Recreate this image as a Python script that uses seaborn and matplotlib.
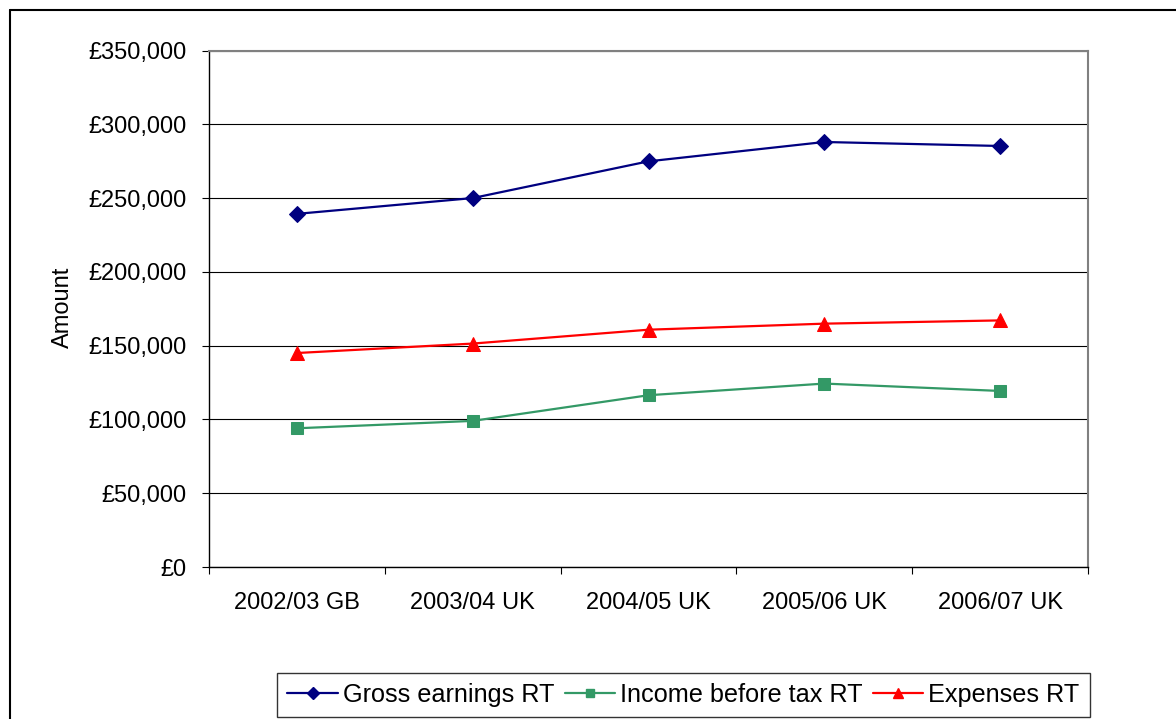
import numpy as np
import pandas as pd
import matplotlib
matplotlib.use("Agg")
import matplotlib.pyplot as plt
from matplotlib.lines import Line2D
from matplotlib.ticker import FixedLocator, FuncFormatter
import seaborn as sns

# Annual averages per tax year
periods = ["2002/03 GB", "2003/04 UK", "2004/05 UK", "2005/06 UK", "2006/07 UK"]
gross_earnings = [239300, 250000, 274900, 288000, 285300]
income_before_tax = [94000, 99000, 116400, 124300, 119300]
expenses = [145000, 151400, 160800, 164900, 167100]

series_names = ["Gross earnings RT", "Income before tax RT", "Expenses RT"]
series_values = [gross_earnings, income_before_tax, expenses]

sns.set_style("white")
plt.rcParams["font.family"] = ["Liberation Sans", "DejaVu Sans"]
plt.rcParams["text.color"] = "black"
plt.rcParams["xtick.color"] = "black"
plt.rcParams["ytick.color"] = "black"
plt.rcParams["axes.labelcolor"] = "black"
FS = 17

pos = np.arange(len(periods))
frames = []
for name, vals in zip(series_names, series_values):
    frames.append(pd.DataFrame({"pos": pos, "value": vals, "series": name}))
df = pd.concat(frames, ignore_index=True)

styles = {
    "Gross earnings RT": dict(color="#000080", marker="D", ms=8),
    "Income before tax RT": dict(color="#339966", marker="s", ms=8),
    "Expenses RT": dict(color="#FF0000", marker="^", ms=9.5),
}

fig = plt.figure(figsize=(11.76, 7.19), dpi=100)
W, H = 1176, 719
ax = fig.add_axes([209 / W, 1 - 567 / H, (1088 - 209) / W, (567 - 50.5) / H])

for name in series_names:
    st = styles[name]
    sns.lineplot(data=df[df["series"] == name], x="pos", y="value", ax=ax,
                 color=st["color"], marker=st["marker"], markersize=st["ms"],
                 markeredgecolor=st["color"], linewidth=1.6, label=name,
                 legend=False, sort=False)

ax.set_xlim(-0.5, len(periods) - 0.5)
ax.set_ylim(0, 350000)
ax.set_yticks(np.arange(0, 350001, 50000))
ax.yaxis.set_major_formatter(FuncFormatter(lambda v, p: f"£{v:,.0f}"))
ax.grid(axis="y", color="black", linewidth=0.8)
ax.set_axisbelow(True)

# category boundaries carry the tick marks, centres carry the labels
ax.xaxis.set_major_locator(FixedLocator(np.arange(-0.5, len(periods), 1.0)))
ax.xaxis.set_major_formatter(FuncFormatter(lambda v, p: ""))
ax.xaxis.set_minor_locator(FixedLocator(pos))
ax.set_xticklabels(periods, minor=True)
ax.tick_params(axis="x", which="major", length=5, width=0.8, color="black", direction="out", bottom=True)
ax.tick_params(axis="x", which="minor", length=0, pad=18, labelsize=FS, labelcolor="black")
ax.tick_params(axis="y", which="major", length=5, width=0.8, color="black", direction="out",
               left=True, pad=11, labelsize=FS, labelcolor="black")
ax.set_xlabel("")
ax.set_ylabel("")

for side in ["left", "bottom"]:
    ax.spines[side].set_color("black")
    ax.spines[side].set_linewidth(1.0)
for side in ["top", "right"]:
    ax.spines[side].set_color("#808080")
    ax.spines[side].set_linewidth(1.5)
    ax.spines[side].set_visible(True)

fig.text(63 / W, 1 - 307 / H, "Amount", rotation=90, ha="center", va="center",
         fontsize=FS, color="black")

# chart-area frame (left and top edges)
fig.add_artist(Line2D([9.5 / W, 9.5 / W], [0, 1 - 9.5 / H], color="black", linewidth=1.5))
fig.add_artist(Line2D([9.5 / W, 1], [1 - 9.5 / H, 1 - 9.5 / H], color="black", linewidth=1.5))

handles = [Line2D([], [], color=styles[n]["color"], marker=styles[n]["marker"],
                  markersize=styles[n]["ms"] * 0.8, linewidth=1.6) for n in series_names]
leg = fig.legend(handles, series_names, loc="lower center", ncol=3,
                 bbox_to_anchor=(683.5 / W, 2 / H), fontsize=18.2, frameon=True,
                 fancybox=False, edgecolor="black", handlelength=2.0,
                 handletextpad=0.2, columnspacing=0.4, borderpad=0.4,
                 borderaxespad=0)
leg.get_frame().set_linewidth(1.0)
for t in leg.get_texts():
    t.set_color("black")

fig.savefig("out.png", dpi=100, facecolor="white")
